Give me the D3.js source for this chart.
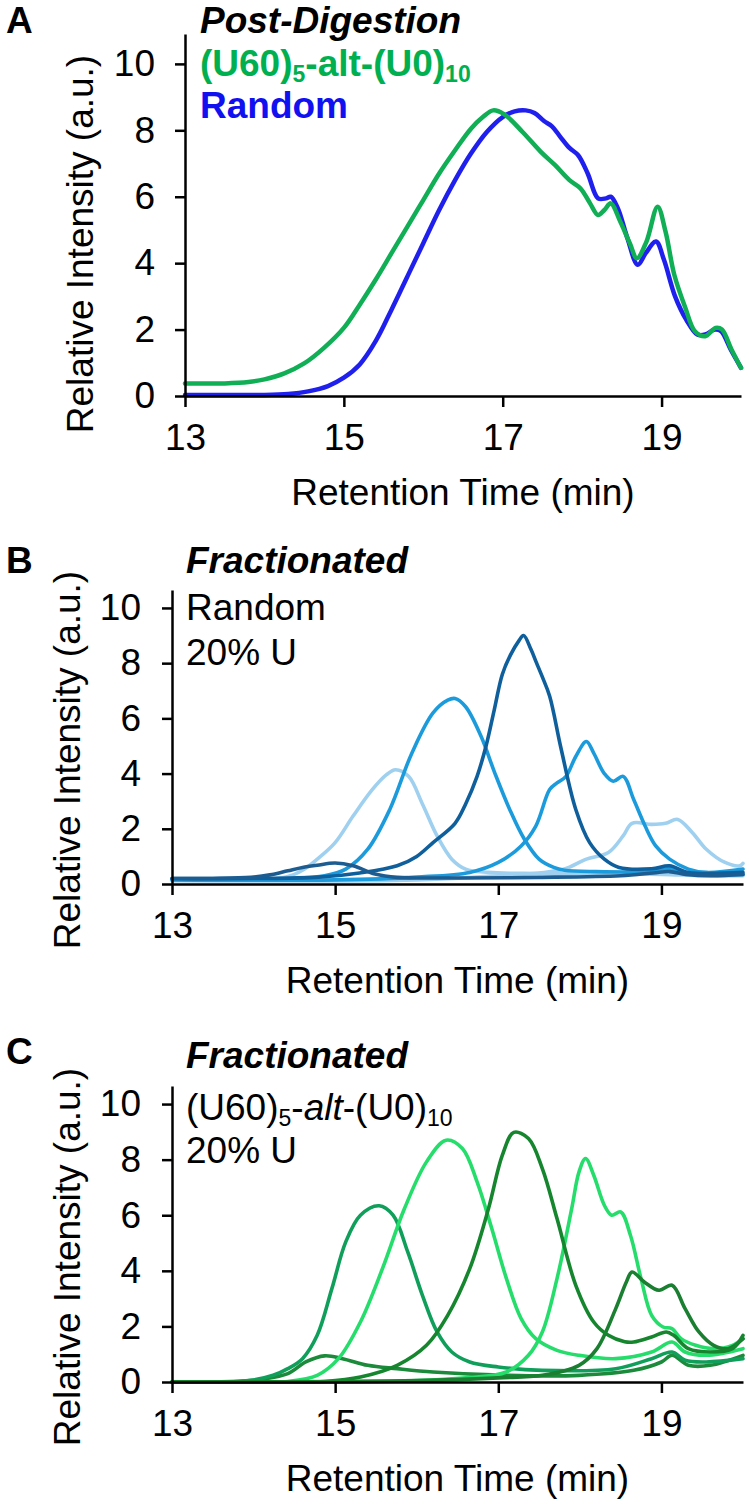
<!DOCTYPE html>
<html>
<head>
<meta charset="utf-8">
<script src="https://cdn.jsdelivr.net/npm/d3@7"></script>
<style>
  html, body { margin: 0; padding: 0; background: #fff; }
  svg { display: block; }
  text { font-family: "Liberation Sans", Arial, sans-serif; }
</style>
</head>
<body>
<svg id="chart" width="749" height="1504"></svg>
<script>
// ---------- DATA ----------
const xTicks = [13, 15, 17, 19];
const yTicks = [0, 2, 4, 6, 8, 10];

// Panel A (Post-Digestion)
const aRandom = [[13.0,0.03],[13.5,0.03],[14.0,0.03],[14.3,0.06],[14.55,0.14],[14.8,0.3],[15.0,0.55],[15.2,0.95],[15.4,1.65],[15.6,2.6],[15.8,3.6],[16.0,4.6],[16.2,5.6],[16.4,6.5],[16.6,7.3],[16.8,7.95],[17.0,8.4],[17.15,8.57],[17.29,8.6],[17.4,8.52],[17.52,8.28],[17.62,8.12],[17.72,7.82],[17.84,7.47],[17.95,7.25],[18.07,6.7],[18.2,5.95],[18.3,5.95],[18.36,6.0],[18.45,5.65],[18.57,4.75],[18.7,3.95],[18.8,4.3],[18.93,4.65],[19.03,4.1],[19.17,3.0],[19.31,2.3],[19.45,1.85],[19.55,1.85],[19.67,2.0],[19.75,1.95],[19.87,1.4],[20.0,0.85]];
const aAlt = [[13.0,0.38],[13.5,0.38],[13.8,0.42],[14.0,0.5],[14.25,0.68],[14.5,0.98],[14.75,1.45],[15.0,2.05],[15.2,2.75],[15.4,3.5],[15.6,4.3],[15.8,5.1],[16.0,5.9],[16.2,6.7],[16.4,7.4],[16.6,8.05],[16.75,8.4],[16.88,8.6],[17.02,8.48],[17.25,7.95],[17.48,7.35],[17.66,6.95],[17.84,6.5],[17.98,6.25],[18.1,5.8],[18.2,5.45],[18.28,5.6],[18.36,5.8],[18.48,5.25],[18.6,4.6],[18.69,4.15],[18.81,4.65],[18.95,5.7],[19.05,4.95],[19.16,3.65],[19.3,2.65],[19.42,1.95],[19.55,1.8],[19.68,2.05],[19.76,2.0],[19.88,1.4],[20.0,0.85]];

// Panel B (Fractionated, Random 20% U)
const bF1 = [[13,0.2],[13.5,0.2],[13.97,0.24],[14.2,0.33],[14.42,0.48],[14.6,0.6],[14.78,0.68],[15.0,0.76],[15.22,0.66],[15.49,0.36],[15.76,0.24],[16.5,0.22],[17.5,0.24],[18.5,0.3],[18.9,0.4],[19.1,0.45],[19.3,0.35],[19.6,0.3],[20,0.35]];
const bF2 = [[13,0.15],[14,0.15],[14.4,0.25],[14.6,0.5],[14.78,0.9],[15.0,1.5],[15.22,2.46],[15.45,3.4],[15.63,3.96],[15.74,4.14],[15.9,3.9],[16.07,2.9],[16.25,1.74],[16.43,0.9],[16.6,0.54],[16.88,0.42],[17.5,0.38],[18.5,0.35],[19.0,0.35],[19.5,0.3],[20,0.3]];
const bF3 = [[13,0.18],[14,0.18],[14.42,0.2],[14.87,0.3],[15.13,0.54],[15.4,1.26],[15.67,2.7],[15.94,4.74],[16.2,6.2],[16.38,6.66],[16.47,6.72],[16.6,6.42],[16.79,5.34],[16.96,4.0],[17.14,2.7],[17.32,1.62],[17.5,0.9],[17.68,0.6],[17.81,0.5],[18.2,0.45],[18.8,0.45],[19.1,0.55],[19.4,0.35],[20,0.35]];
const bF4 = [[13,0.2],[14,0.2],[14.8,0.25],[15.3,0.4],[15.76,0.66],[16.0,1.0],[16.2,1.5],[16.47,2.2],[16.6,2.9],[16.74,3.9],[16.85,5.0],[16.95,6.3],[17.05,7.6],[17.15,8.3],[17.25,8.8],[17.31,9.0],[17.4,8.5],[17.47,8.0],[17.54,7.5],[17.63,6.8],[17.77,4.9],[17.95,2.7],[18.12,1.5],[18.3,0.9],[18.48,0.6],[18.88,0.55],[19.1,0.66],[19.33,0.42],[20,0.42]];
const bF5 = [[13,0.15],[15,0.15],[16,0.25],[16.65,0.42],[17.0,0.78],[17.28,1.38],[17.46,2.1],[17.63,3.42],[17.72,3.66],[17.83,3.9],[17.95,4.62],[18.08,5.16],[18.17,4.74],[18.3,4.0],[18.41,3.72],[18.53,3.9],[18.66,3.06],[18.8,2.1],[18.93,1.38],[19.1,0.9],[19.33,0.54],[19.55,0.42],[20,0.54]];
const bF6 = [[13,0.12],[16,0.15],[17.0,0.3],[17.5,0.4],[17.81,0.54],[18.08,0.9],[18.35,1.14],[18.53,1.74],[18.64,2.2],[18.88,2.16],[19.05,2.2],[19.2,2.34],[19.38,1.86],[19.55,1.26],[19.78,0.78],[19.96,0.66],[20,0.75]];

// Panel C (Fractionated, (U60)5-alt-(U0)10 20% U)
const cF1 = [[13,0],[13.8,0.02],[14.1,0.1],[14.42,0.3],[14.64,0.72],[14.87,0.94],[15.09,0.84],[15.4,0.6],[15.76,0.48],[16.2,0.36],[17.1,0.24],[17.99,0.24],[18.66,0.42],[19.0,0.72],[19.13,0.96],[19.33,0.6],[19.6,0.6],[20,0.96]];
const cF2 = [[13,0.0],[13.5,0.0],[13.97,0.06],[14.24,0.24],[14.42,0.48],[14.6,0.84],[14.78,1.68],[14.96,3.36],[15.13,5.04],[15.31,6.0],[15.54,6.34],[15.71,6.0],[15.89,4.68],[16.07,3.12],[16.25,1.8],[16.43,1.08],[16.65,0.72],[17.0,0.54],[17.54,0.42],[18.44,0.48],[18.88,0.84],[19.13,1.08],[19.29,0.78],[19.55,0.72],[20,0.84]];
const cF3 = [[13,0],[14,0],[14.42,0.02],[14.78,0.24],[15.04,0.84],[15.31,2.16],[15.58,4.08],[15.85,6.24],[16.12,7.92],[16.36,8.7],[16.56,8.4],[16.74,7.2],[16.92,5.52],[17.1,3.72],[17.28,2.28],[17.46,1.56],[17.72,1.14],[17.99,0.96],[18.44,0.84],[18.88,1.08],[19.13,1.44],[19.29,1.08],[19.55,0.96],[20,1.2]];
const cF4 = [[13,0],[14.5,0],[14.87,0.02],[15.31,0.18],[15.76,0.6],[16.12,1.32],[16.38,2.4],[16.65,4.08],[16.88,6.24],[17.05,8.16],[17.19,8.98],[17.37,8.76],[17.54,7.68],[17.72,5.88],[17.95,3.48],[18.17,2.16],[18.35,1.68],[18.55,1.45],[18.66,1.44],[18.88,1.62],[19.06,1.8],[19.15,1.68],[19.33,1.2],[19.6,1.08],[19.87,1.2],[20,1.68]];
const cF5 = [[13,0],[16,0.05],[16.6,0.15],[17.1,0.36],[17.37,0.96],[17.54,1.8],[17.72,3.72],[17.9,6.24],[17.99,7.56],[18.07,8.04],[18.17,7.44],[18.3,6.36],[18.39,6.0],[18.5,6.12],[18.62,5.28],[18.75,3.72],[18.88,2.4],[19.02,1.98],[19.13,1.92],[19.24,1.56],[19.42,1.32],[19.64,1.2],[19.87,1.32],[20,1.56]];
const cF6 = [[13,0],[16,0.05],[17,0.15],[17.54,0.24],[17.99,0.6],[18.21,1.2],[18.44,2.64],[18.57,3.6],[18.64,3.96],[18.79,3.6],[18.97,3.3],[19.13,3.48],[19.29,2.64],[19.46,1.8],[19.64,1.32],[19.82,1.2],[20,1.56]];

// ---------- DRAW ----------
const svg = d3.select("#chart");
svg.append("rect").attr("width", 749).attr("height", 1504).attr("fill", "#fff");
const FS = 37;

function panel(cfg) {
  const x = d3.scaleLinear().domain([13, 20]).range([cfg.x0, cfg.x1]);
  const y = d3.scaleLinear().domain([0, cfg.yMax]).range([cfg.y0, cfg.yTop]);
  const g = svg.append("g");

  const line = d3.line().x(d => x(d[0])).y(d => y(d[1])).curve(d3.curveCatmullRom.alpha(0.5));
  cfg.series.forEach(s => {
    g.append("path").datum(s.data).attr("d", line)
      .attr("fill", "none").attr("stroke", s.color)
      .attr("stroke-width", cfg.lw).attr("stroke-linejoin", "round").attr("stroke-linecap", "round");
  });

  const xa = g.append("g").attr("transform", `translate(0,${cfg.y0})`)
    .call(d3.axisBottom(x).tickValues(xTicks).tickFormat(d3.format("d"))
      .tickSize(11).tickSizeOuter(0).tickPadding(17));
  const ya = g.append("g").attr("transform", `translate(${cfg.x0},0)`)
    .call(d3.axisLeft(y).tickValues(yTicks).tickFormat(d3.format("d"))
      .tickSize(10).tickSizeOuter(0).tickPadding(cfg.yPad));
  [xa, ya].forEach(a => {
    a.select(".domain").attr("stroke", "#000").attr("stroke-width", 2.5);
    a.selectAll(".tick line").attr("stroke", "#000").attr("stroke-width", 2.5);
    a.selectAll(".tick text").attr("font-size", FS).attr("fill", "#000")
      .attr("font-family", "'Liberation Sans', Arial, sans-serif");
  });

  // axis titles
  g.append("text").attr("x", (cfg.x0 + cfg.x1) / 2).attr("y", cfg.y0 + 109)
    .attr("text-anchor", "middle").attr("font-size", FS).text("Retention Time (min)");
  g.append("text").attr("transform", `translate(${cfg.yLabX},${cfg.yLabY}) rotate(-90)`)
    .attr("text-anchor", "middle").attr("font-size", FS).text("Relative Intensity (a.u.)");

  // panel letter
  g.append("text").attr("x", 6).attr("y", cfg.letterY).attr("font-size", 37)
    .attr("font-weight", "bold").text(cfg.letter);
  return g;
}

function richText(g, xPos, yPos, parts, attrs) {
  const t = g.append("text").attr("x", xPos).attr("y", yPos).attr("font-size", FS);
  Object.entries(attrs || {}).forEach(([k, v]) => t.attr(k, v));
  parts.forEach(p => {
    const ts = t.append("tspan").text(p.t);
    if (p.sub) ts.attr("font-size", 23).attr("dy", 6);
    if (p.up) ts.attr("dy", -6);
    if (p.it) ts.attr("font-style", "italic");
  });
  return t;
}

// Panel A
const gA = panel({
  letter: "A", letterY: 33, x0: 185, x1: 741, y0: 396, yTop: 34, yMax: 10.9,
  yPad: 20, lw: 4.5, yLabX: 93, yLabY: 244,
  series: [
    { data: aRandom, color: "#1f1fee" },
    { data: aAlt, color: "#10ae55" }
  ]
});
gA.append("text").attr("x", 200).attr("y", 33).attr("font-size", FS)
  .attr("font-weight", "bold").attr("font-style", "italic").text("Post-Digestion");
richText(gA, 200, 76, [{t:"(U60)"},{t:"5",sub:true},{t:"-alt-(U0)",up:true},{t:"10",sub:true}],
  { "font-weight": "bold", fill: "#00b050" });
gA.append("text").attr("x", 200).attr("y", 118).attr("font-size", FS)
  .attr("font-weight", "bold").attr("fill", "#1010f0").text("Random");

// Panel B
const gB = panel({
  letter: "B", letterY: 573, x0: 172, x1: 743, y0: 884, yTop: 590, yMax: 10.65,
  yPad: 21, lw: 3.6, yLabX: 80, yLabY: 760,
  series: [
    { data: bF2, color: "#9fd0ef" },
    { data: bF6, color: "#9fd0ef" },
    { data: bF3, color: "#1c9bdc" },
    { data: bF5, color: "#1c9bdc" },
    { data: bF4, color: "#0f5f9c" },
    { data: bF1, color: "#1d5c90" }
  ]
});
gB.append("text").attr("x", 186).attr("y", 573).attr("font-size", FS)
  .attr("font-weight", "bold").attr("font-style", "italic").text("Fractionated");
gB.append("text").attr("x", 186).attr("y", 620).attr("font-size", FS).text("Random");
gB.append("text").attr("x", 186).attr("y", 665).attr("font-size", FS).text("20% U");

// Panel C
const gC = panel({
  letter: "C", letterY: 1064, x0: 172, x1: 743, y0: 1382, yTop: 1086, yMax: 10.65,
  yPad: 21, lw: 3.6, yLabX: 80, yLabY: 1257,
  series: [
    { data: cF1, color: "#1b8a3a" },
    { data: cF2, color: "#0f9f5a" },
    { data: cF3, color: "#25dd6a" },
    { data: cF5, color: "#25dd6a" },
    { data: cF6, color: "#1a7f30" },
    { data: cF4, color: "#15852e" }
  ]
});
gC.append("text").attr("x", 186).attr("y", 1068).attr("font-size", FS)
  .attr("font-weight", "bold").attr("font-style", "italic").text("Fractionated");
richText(gC, 186, 1120, [{t:"(U60)"},{t:"5",sub:true},{t:"-",up:true},{t:"alt",it:true},{t:"-(U0)"},{t:"10",sub:true}], {});
gC.append("text").attr("x", 186).attr("y", 1163).attr("font-size", FS).text("20% U");
</script>
</body>
</html>
